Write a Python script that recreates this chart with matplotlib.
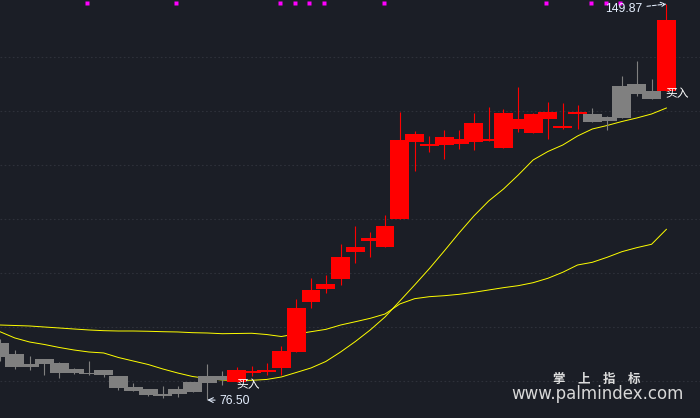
import matplotlib
matplotlib.use("Agg")
import matplotlib.pyplot as plt
import matplotlib.transforms as mtransforms
import numpy as np

# candle data (price units)
opens = [87.06, 85.02, 83.17, 84.09, 83.35, 82.24, 81.41, 82.06, 80.95, 78.91,
         78.54, 77.61, 77.61, 77.98, 79.65, 80.20,
         79.83, 81.87, 81.69, 82.43, 85.39, 94.66, 97.06, 98.92, 103.92, 105.96,
         104.85, 110.03, 125.78, 123.93, 123.74, 124.86, 124.30, 124.86, 123.19, 128.56,
         125.97, 128.56, 127.27, 129.49,
         129.49, 128.93, 128.75, 135.05, 133.75,
         133.75]
closes = [84.47, 82.61, 82.61, 83.17, 81.50, 81.50, 81.22, 81.13, 78.72, 78.17,
          77.42, 77.24, 78.54, 79.83, 80.95, 80.95,
          82.06, 81.50, 82.06, 85.58, 93.54, 96.88, 97.99, 102.99, 104.85, 106.51,
          108.74, 124.67, 124.30, 123.56, 125.23, 123.93, 127.82, 124.49, 129.67, 126.71,
          129.49, 129.86, 126.89, 129.86,
          128.01, 128.19, 134.68, 133.19, 132.27,
          146.90]
highs = [87.80, 85.76, 84.65, 84.09, 83.54, 82.43, 83.72, 82.06, 80.95, 79.65,
         78.54, 79.09, 79.09, 79.83, 83.17, 81.87,
         82.61, 82.80, 83.35, 86.50, 95.21, 99.10, 99.66, 105.40, 108.74, 107.63,
         110.78, 129.86, 126.34, 125.41, 126.52, 126.52, 129.67, 130.79, 130.41, 134.49,
         129.67, 131.71, 131.53, 131.16,
         130.60, 129.12, 136.53, 139.31, 135.97,
         149.87]
lows = [83.72, 82.24, 82.06, 81.13, 80.57, 81.31, 81.13, 80.76, 78.35, 78.17,
        77.24, 76.87, 77.05, 77.98, 76.50, 79.28,
        79.83, 80.95, 81.13, 81.13, 85.39, 93.54, 96.32, 97.81, 101.88, 102.99,
        104.85, 110.03, 118.93, 122.45, 121.15, 123.00, 122.82, 124.49, 123.19, 126.15,
        125.97, 124.86, 126.71, 126.71,
        128.01, 126.52, 128.75, 132.82, 132.27,
        133.75]
# g = waiting (gray), r = holding (red)
states = "g" * 16 + "r" * 24 + "g" * 5 + "r"

ma_slow = [90.39, 90.30, 90.21, 90.02, 89.84, 89.65, 89.47, 89.34, 89.28, 89.28,
           89.23, 89.15, 89.10, 88.97, 88.91, 88.78, 88.82, 88.86, 88.63, 88.26,
           88.73, 89.15, 89.58, 90.39, 91.00, 91.63, 92.43, 94.29, 95.27, 95.64,
           95.82, 96.08, 96.45, 96.88, 97.31, 97.68, 98.23, 99.05, 100.16, 101.51,
           102.01, 102.94, 103.98, 104.72, 105.35, 108.12]
ma_fast = [89.15, 87.99, 87.24, 86.78, 86.23, 85.76, 85.39, 85.21, 84.37, 83.72,
           83.08, 82.24, 81.50, 80.85, 80.48, 80.20, 80.11, 80.15, 80.30, 80.76,
           81.59, 82.43, 83.63, 85.39, 87.34, 89.47, 91.88, 94.84, 97.81, 100.86,
           104.11, 107.44, 110.59, 113.37, 115.59, 118.19, 120.97, 122.54, 123.74, 125.41,
           126.71, 127.36, 128.10, 128.75, 129.49, 130.60]

dots = [6, 12, 19, 20, 21, 22, 26, 37, 40, 41, 42]
buys = [16, 45]
grid_prices = [80, 90, 100, 110, 120, 130, 140]

bg = "#1b1e26"
colors = {"g": "#808080", "r": "#ff0000"}

fig = plt.figure(figsize=(7, 4.18), dpi=100, facecolor=bg)
ax = fig.add_axes([0, 0, 1, 1])
ax.set_facecolor(bg)

for p in grid_prices:
    ax.axhline(p, color="#2e313a", lw=0.8, dashes=(1.5, 2.2), zorder=0)

x = np.arange(len(opens))
ax.plot(x, ma_slow, color="#ffff00", lw=0.7, zorder=1)
ax.plot(x, ma_fast, color="#ffff00", lw=0.7, zorder=1)

for i in x:
    c = colors[states[i]]
    lo_b = min(opens[i], closes[i])
    h = max(abs(opens[i] - closes[i]), 0.25)
    ax.vlines(i, lows[i], highs[i], color=c, lw=0.8, zorder=2 + i * 0.01)
    ax.bar(i, h, bottom=lo_b, width=1.28, color=c, lw=0, zorder=2 + i * 0.01)

trans = mtransforms.blended_transform_factory(ax.transData, ax.transAxes)
ax.plot(np.array(dots) - 0.1, [0.994] * len(dots), "s", ms=2.2, color="#ff00ff",
        mec="none", transform=trans, zorder=5)

for b in buys:
    ax.annotate("买入", xy=(b, lows[b]), xytext=(-0.7, -2.2), textcoords="offset points",
                color="white", fontsize=8.5, ha="left", va="center",
                family=["Noto Sans CJK SC", "DejaVu Sans"], zorder=6)

lbl_color = "#e6f0ff"
ihi = int(np.argmax(highs))
ilo = int(np.argmin(lows))
ax.annotate("%.2f" % highs[ihi], xy=(ihi, highs[ihi]), xytext=(-17, -3.6),
            textcoords="offset points", ha="right", va="center", color=lbl_color,
            fontsize=8.7, family="Liberation Sans",
            arrowprops=dict(arrowstyle="->", color=lbl_color, lw=0.75, ls="--",
                            shrinkA=1, shrinkB=0), zorder=6)
ax.annotate("%.2f" % lows[ilo], xy=(ilo, lows[ilo]), xytext=(8.6, -0.4),
            textcoords="offset points", ha="left", va="center", color=lbl_color,
            fontsize=8.7, family="Liberation Sans",
            arrowprops=dict(arrowstyle="->", color=lbl_color, lw=0.75,
                            shrinkA=1, shrinkB=0), zorder=6)

ax.text(0.853, 0.091, "掌\u3000上\u3000指\u3000标", transform=ax.transAxes, color="#dcdcdc",
        fontsize=9, fontweight="bold", ha="center", va="center",
        family=["Noto Sans CJK SC", "DejaVu Sans"])
ax.text(0.853, 0.057, "www.palmindex.com", transform=ax.transAxes, color="#d8d8d8",
        fontsize=12, ha="center", va="center")

ax.set_xlim(0, 47.27)
ax.set_ylim(73.16, 150.61)
ax.axis("off")

fig.savefig("out.png", dpi=100, facecolor=bg)
